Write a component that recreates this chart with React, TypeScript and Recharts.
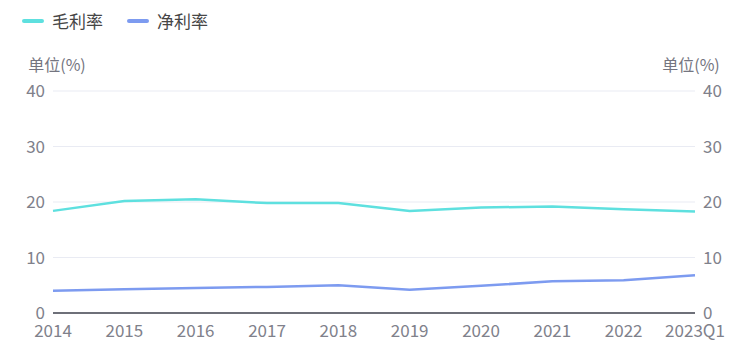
import React from 'react';
import { LineChart, Line, XAxis, YAxis, CartesianGrid } from 'recharts';

const categories = ['2014', '2015', '2016', '2017', '2018', '2019', '2020', '2021', '2022', '2023Q1'];
const grossMargin = [18.4, 20.2, 20.5, 19.8, 19.8, 18.4, 19.0, 19.2, 18.7, 18.3];
const netMargin = [4.0, 4.3, 4.5, 4.7, 5.0, 4.2, 4.9, 5.7, 5.9, 6.8];
const yTicks = [0, 10, 20, 30, 40];
const seriesNames = ['毛利率', '净利率'];
const unitLabel = '单位(%)';

const colors = ['#5EE0DF', '#7D9BF0'];
const FONT = '"Noto Sans CJK SC", "Noto Sans", sans-serif';

const data = categories.map((c, i) => ({ name: c, gross: grossMargin[i], net: netMargin[i] }));

const LegendBox = () => (
  <div style={{ position: 'absolute', left: 22, top: 9, display: 'flex', alignItems: 'center', fontFamily: FONT, fontSize: 17, color: '#464646', lineHeight: '24px' }}>
    {seriesNames.map((n, i) => (
      <div key={n} style={{ display: 'flex', alignItems: 'center', marginRight: 24 }}>
        <div style={{ width: 22, height: 4, borderRadius: 2, background: colors[i], marginRight: 8 }} />
        <span>{n}</span>
      </div>
    ))}
  </div>
);

const leftUnit = (props: any) => {
  const vb = props.viewBox;
  return (
    <text x={vb.x + vb.width + 4} y={vb.y - 27} textAnchor="middle" fill="#747580" fontSize={16} fontFamily={FONT} dominantBaseline="central">
      {unitLabel}
    </text>
  );
};

const rightUnit = (props: any) => {
  const vb = props.viewBox;
  return (
    <text x={vb.x - 4} y={vb.y - 27} textAnchor="middle" fill="#747580" fontSize={16} fontFamily={FONT} dominantBaseline="central">
      {unitLabel}
    </text>
  );
};

const tickStyle = { fill: '#80818B', fontSize: 17, fontFamily: FONT };

export default function App() {
  return (
    <div style={{ position: 'absolute', left: 0, top: 0, width: 748, height: 355, background: '#fff' }}>
      <LegendBox />
      <LineChart width={748} height={355} data={data} margin={{ top: 91, right: 0, bottom: 12, left: 0 }}>
        <CartesianGrid yAxisId="left" horizontal vertical={false} stroke="#E9EBF3" />
        <XAxis
          dataKey="name"
          interval={0}
          tickLine={false}
          axisLine={{ stroke: '#6E7079', strokeWidth: 2 }}
          tick={tickStyle}
          tickMargin={6}
          height={30}
          padding={{ left: 0, right: 0 }}
        />
        <YAxis
          yAxisId="left"
          orientation="left"
          width={53}
          domain={[0, 40]}
          ticks={yTicks}
          tickLine={false}
          axisLine={false}
          tick={tickStyle}
          label={{ content: leftUnit }}
        />
        <YAxis
          yAxisId="right"
          orientation="right"
          width={53}
          domain={[0, 40]}
          ticks={yTicks}
          tickLine={false}
          axisLine={false}
          tick={tickStyle}
          label={{ content: rightUnit }}
        />
        <Line yAxisId="left" type="linear" dataKey="gross" name={seriesNames[0]} stroke={colors[0]} strokeWidth={2.5} dot={false} isAnimationActive={false} />
        <Line yAxisId="right" type="linear" dataKey="net" name={seriesNames[1]} stroke={colors[1]} strokeWidth={2.5} dot={false} isAnimationActive={false} />
      </LineChart>
    </div>
  );
}
